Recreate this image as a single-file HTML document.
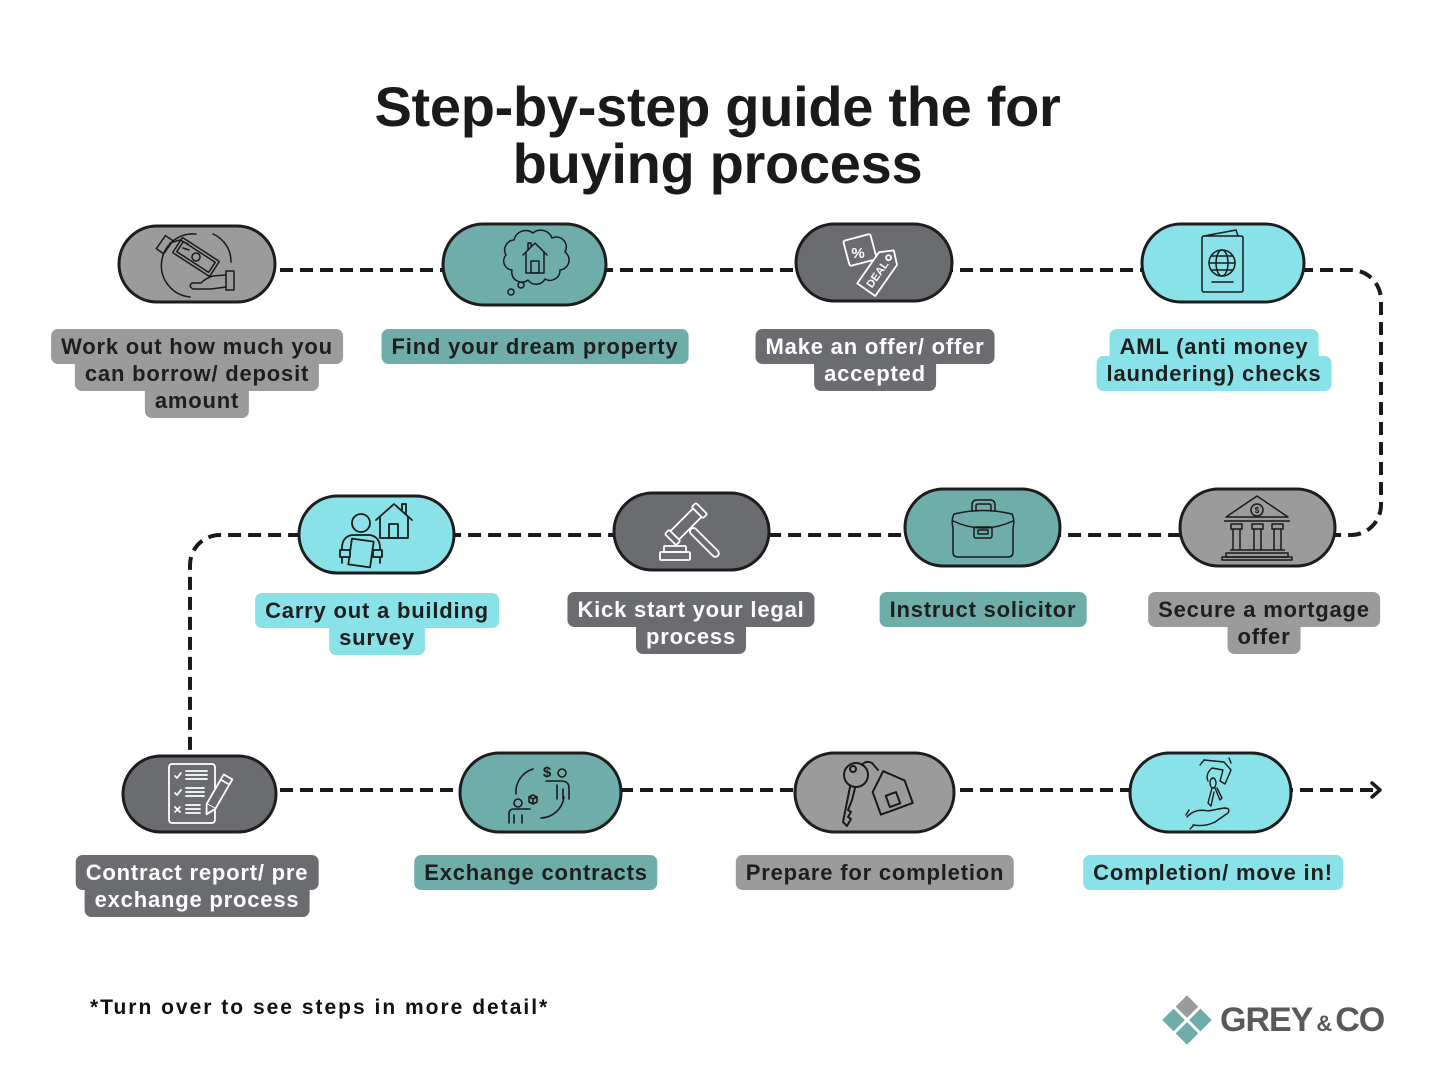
<!DOCTYPE html>
<html>
<head>
<meta charset="utf-8">
<style>
  html,body{margin:0;padding:0;background:#ffffff;}
  body{width:1435px;height:1079px;position:relative;overflow:hidden;font-family:"Liberation Sans",sans-serif;}
  .title{position:absolute;left:0;top:78px;width:1435px;text-align:center;font-weight:bold;font-size:56px;line-height:57px;letter-spacing:-0.3px;color:#1a1a1a;}
  .l{position:absolute;transform:translateX(-50%);white-space:nowrap;height:35px;line-height:35px;padding:0 10px;border-radius:7px;font-weight:bold;font-size:22px;letter-spacing:0.8px;}
  .g{background:#9b9b9b;color:#1e1e1e;}
  .t{background:#6fadaa;color:#1e1e1e;}
  .d{background:#6b6c70;color:#ffffff;}
  .c{background:#89e2e8;color:#1e1e1e;}
  .bg .l{color:transparent;}
  .tx .l{background:transparent;}
  .foot{position:absolute;left:90px;top:997px;font-weight:bold;font-size:21px;line-height:21px;letter-spacing:2px;color:#111;white-space:nowrap;}
  .logo{position:absolute;left:1220px;top:1000px;font-weight:bold;font-size:34px;line-height:40px;letter-spacing:-1px;color:#58595b;white-space:nowrap;}
  .logo .amp{font-size:22px;letter-spacing:0;margin:0 3px 0 4px;}
</style>
</head>
<body>

<svg width="1435" height="1079" style="position:absolute;left:0;top:0" xmlns="http://www.w3.org/2000/svg">
  <!-- connectors -->
  <g fill="none" stroke="#1a1a1a" stroke-width="4" stroke-dasharray="13 7">
    <path d="M200,270 H1351 A30,30 0 0 1 1381,300 V505 A30,30 0 0 1 1351,535 H220 A30,30 0 0 0 190,565 V757"/>
    <path d="M200,790 H1378"/>
  </g>
  <path d="M1372,783 L1380,790 L1372,797" fill="none" stroke="#1a1a1a" stroke-width="3.5" stroke-linecap="round" stroke-linejoin="round"/>

  <!-- pills -->
  <g stroke="#1d1d1d" stroke-width="3">
    <rect x="119" y="226" width="156" height="76" rx="38" fill="#9b9b9b"/>
    <rect x="443" y="224" width="163" height="81" rx="40.5" fill="#6fadaa"/>
    <rect x="796" y="224" width="156" height="77" rx="38.5" fill="#6b6c70"/>
    <rect x="1142" y="224" width="162" height="78" rx="39" fill="#89e2e8"/>

    <rect x="299" y="496" width="155" height="77" rx="38.5" fill="#89e2e8"/>
    <rect x="614" y="493" width="155" height="77" rx="38.5" fill="#6b6c70"/>
    <rect x="905" y="489" width="155" height="77" rx="38.5" fill="#6fadaa"/>
    <rect x="1180" y="489" width="155" height="77" rx="38.5" fill="#9b9b9b"/>

    <rect x="123" y="756" width="153" height="76" rx="38" fill="#6b6c70"/>
    <rect x="460" y="753" width="161" height="79" rx="39.5" fill="#6fadaa"/>
    <rect x="795" y="753" width="159" height="79" rx="39.5" fill="#9b9b9b"/>
    <rect x="1130" y="753" width="161" height="79" rx="39.5" fill="#89e2e8"/>
  </g>

  <!-- Icon 1: money hands -->
  <g fill="none" stroke="#1a1a1a" stroke-width="1.5" stroke-linecap="round" stroke-linejoin="round">
    <path d="M196,234 A31,31 0 0 0 190,297"/>
    <path d="M213,234 A30,30 0 0 1 231,262"/>
    <g transform="rotate(33,196,257)">
      <rect x="174" y="248" width="44" height="18" rx="1"/>
      <rect x="177" y="251" width="38" height="12"/>
      <ellipse cx="196" cy="257" rx="4" ry="4"/>
    </g>
    <g transform="rotate(35,165,245)">
      <rect x="160" y="237" width="9" height="16"/>
    </g>
    <path d="M170,243 L180,240 L188,244 M183,248 L189,250"/>
    <rect x="226" y="271" width="8" height="19"/>
    <path d="M226,275 L213,276 Q206,278 201,283 L192,283 Q188,286 193,289 L211,289 L226,287"/>
  </g>

  <!-- Icon 2: thought cloud with house -->
  <g fill="none" stroke="#1a1a1a" stroke-width="1.5" stroke-linecap="round" stroke-linejoin="round">
    <path d="M512,270 A9,9 0 0 1 506,255 A10,10 0 0 1 514,240 A12,12 0 0 1 533,233 A12,12 0 0 1 552,238 A10,10 0 0 1 565,252 A10,10 0 0 1 560,270 A10,10 0 0 1 545,279 A10,10 0 0 1 528,280 A10,10 0 0 1 512,270 Z"/>
    <path d="M523,255 L535,243 L547,255"/>
    <path d="M526,252 V273 H544 V252"/>
    <rect x="531" y="261" width="8" height="12"/>
    <path d="M528,249 V243 H531 V246"/>
    <circle cx="521" cy="285" r="3"/>
    <circle cx="511" cy="292" r="3"/>
  </g>

  <!-- Icon 3: deal tags (white) -->
  <g fill="none" stroke="#ffffff" stroke-width="1.8" stroke-linejoin="round">
    <g transform="rotate(-15,860,250)">
      <rect x="846" y="237" width="28" height="26" rx="2"/>
    </g>
    <text x="858" y="258" font-family="Liberation Sans, sans-serif" font-size="15" font-weight="bold" fill="#ffffff" stroke="none" text-anchor="middle">%</text>
    <g transform="translate(880,270) rotate(-55)">
      <path d="M-24,-11 H14 L24,0 L14,11 H-24 Z" fill="#6b6c70"/>
      <circle cx="15" cy="0" r="2.5"/>
      <text x="-5" y="4" font-family="Liberation Sans, sans-serif" font-size="11" font-weight="bold" fill="#ffffff" stroke="none" text-anchor="middle">DEAL</text>
    </g>
  </g>

  <!-- Icon 4: passport -->
  <g fill="none" stroke="#1a1a1a" stroke-width="1.5" stroke-linecap="round" stroke-linejoin="round">
    <rect x="1202" y="236" width="41" height="56" rx="2"/>
    <path d="M1204,236 L1236,230 L1238,236"/>
    <circle cx="1222" cy="263" r="13"/>
    <ellipse cx="1222" cy="263" rx="6" ry="13"/>
    <path d="M1209,263 H1235 M1211,256 H1233 M1211,270 H1233"/>
    <path d="M1212,282 H1233"/>
  </g>

  <!-- Icon 5: surveyor + house -->
  <g fill="none" stroke="#1a1a1a" stroke-width="1.8" stroke-linecap="round" stroke-linejoin="round">
    <circle cx="361" cy="523" r="9"/>
    <path d="M342,563 V548 Q342,537 352,535 L370,535 Q380,537 380,548 V563"/>
    <g transform="rotate(8,361,553)">
      <rect x="350" y="540" width="22" height="26" fill="#89e2e8"/>
    </g>
    <rect x="340" y="550" width="10" height="7" fill="#89e2e8"/>
    <rect x="373" y="550" width="9" height="7" fill="#89e2e8"/>
    <path d="M376,520 L394,504 L412,520"/>
    <path d="M380,517 V538 H408 V517"/>
    <rect x="389" y="524" width="9" height="14"/>
    <path d="M402,510 V504 H406 V514"/>
  </g>

  <!-- Icon 6: gavel (white) -->
  <g fill="none" stroke="#ffffff" stroke-width="1.8" stroke-linejoin="round">
    <g transform="translate(686,524) rotate(45)">
      <rect x="7" y="-3.5" width="38" height="7" rx="3.5"/>
    </g>
    <g transform="translate(686,524) rotate(-45)">
      <rect x="-17" y="-6" width="34" height="12" rx="2" fill="#6b6c70"/>
      <rect x="-22" y="-8" width="6" height="16" rx="1.5" fill="#6b6c70"/>
      <rect x="16" y="-8" width="6" height="16" rx="1.5" fill="#6b6c70"/>
    </g>
    <rect x="664" y="546" width="22" height="6" rx="1"/>
    <rect x="660" y="552" width="30" height="8" rx="1"/>
  </g>

  <!-- Icon 7: briefcase -->
  <g fill="none" stroke="#1a1a1a" stroke-width="1.5" stroke-linecap="round" stroke-linejoin="round">
    <path d="M972,511 V505 Q972,500 977,500 H990 Q995,500 995,505 V511"/>
    <path d="M976,511 V506 Q976,504 978,504 H989 Q991,504 991,506 V511"/>
    <path d="M954,514 Q951,520 953,528 V552 Q953,557 958,557 H1008 Q1013,557 1013,552 V528 Q1015,520 1012,514 Q983,507 954,514 Z"/>
    <path d="M953,521 Q983,535 1013,521"/>
    <rect x="974" y="527" width="18" height="11" rx="2"/>
    <rect x="978" y="530" width="10" height="4"/>
  </g>

  <!-- Icon 8: bank -->
  <g fill="none" stroke="#1a1a1a" stroke-width="1.5" stroke-linejoin="round">
    <path d="M1226,517 L1257,496 L1288,517 Z"/>
    <path d="M1224,521 H1290"/>
    <circle cx="1257" cy="510" r="6"/>
    <text x="1257" y="513" font-family="Liberation Sans, sans-serif" font-size="8" font-weight="bold" fill="#1a1a1a" stroke="none" text-anchor="middle">$</text>
    <rect x="1231" y="524" width="11" height="5"/>
    <rect x="1252" y="524" width="11" height="5"/>
    <rect x="1272" y="524" width="11" height="5"/>
    <path d="M1233,529 V550 M1240,529 V550 M1254,529 V550 M1261,529 V550 M1274,529 V550 M1281,529 V550"/>
    <path d="M1230,550 H1285"/>
    <rect x="1226" y="553" width="62" height="4"/>
    <rect x="1222" y="557" width="70" height="3"/>
  </g>

  <!-- Icon 9: checklist (white) -->
  <g fill="none" stroke="#ffffff" stroke-width="1.8" stroke-linecap="round" stroke-linejoin="round">
    <rect x="169" y="764" width="46" height="59" rx="3"/>
    <path d="M175,776 L177,778 L181,773"/>
    <path d="M186,771 H207 M186,775 H207 M186,779 H207"/>
    <path d="M175,793 L177,795 L181,790"/>
    <path d="M186,788 H204 M186,792 H204 M186,796 H204"/>
    <path d="M175,807 L180,812 M180,807 L175,812"/>
    <path d="M186,805 H200 M186,809 H200 M186,813 H200"/>
    <g transform="translate(217,796) rotate(30)">
      <rect x="-5" y="-22" width="10" height="34" fill="#6b6c70"/>
      <path d="M-5,12 L0,21 L5,12" fill="#6b6c70"/>
      <path d="M-5,-16 H5"/>
    </g>
  </g>

  <!-- Icon 10: exchange -->
  <g fill="none" stroke="#1a1a1a" stroke-width="1.6" stroke-linecap="round" stroke-linejoin="round">
    <path d="M533,769 A24,24 0 0 0 516,794"/>
    <path d="M564,797 A24,24 0 0 1 541,818"/>
    <text x="547" y="777" font-family="Liberation Sans, sans-serif" font-size="15" font-weight="bold" fill="#1a1a1a" stroke="none" text-anchor="middle">$</text>
    <circle cx="562" cy="773" r="4"/>
    <path d="M546,781 H561 Q569,781 569,788 V799 M563,789 V799 M557,785 V799"/>
    <circle cx="518" cy="803" r="4"/>
    <path d="M509,823 V814 Q509,809 514,809 H530 M514,815 V823 M522,815 V823"/>
    <path d="M529,797 L533,795 L537,797 V802 L533,804 L529,802 Z M529,797 L533,799 L537,797 M533,799 V804"/>
  </g>

  <!-- Icon 11: keys with house tag -->
  <g fill="none" stroke="#1a1a1a" stroke-width="2" stroke-linecap="round" stroke-linejoin="round">
    <circle cx="856" cy="775" r="12"/>
    <circle cx="853" cy="769" r="3"/>
    <path d="M850,787 L843,822 L847,826 L851,819 L848,817 L851,812 L848,810 L852,800 L855,788"/>
    <path d="M862,765 Q866,760 872,763 L878,770"/>
    <g transform="rotate(-20,890,790)">
      <path d="M873,786 L890,770 L907,786 V810 H873 Z"/>
      <rect x="884" y="794" width="11" height="12"/>
    </g>
  </g>

  <!-- Icon 12: hands with keys -->
  <g fill="none" stroke="#1a1a1a" stroke-width="1.4" stroke-linecap="round" stroke-linejoin="round">
    <path d="M1204,760 L1224,762 L1231,770 L1225,784 L1220,781 L1223,770 L1212,768 Q1205,774 1208,781"/>
    <path d="M1200,765 L1204,760 M1229,758 L1231,763"/>
    <ellipse cx="1213" cy="783" rx="3" ry="5"/>
    <path d="M1212,788 L1208,803 L1211,806 L1214,792 M1215,788 L1220,800 L1222,798 L1217,788"/>
    <path d="M1187,817 Q1195,808 1208,811 L1224,808 Q1231,808 1228,813 L1215,822 Q1205,827 1193,825"/>
    <path d="M1189,810 L1186,815 M1193,826 L1190,829"/>
  </g>

  <!-- Logo diamond -->
  <g transform="translate(1187,1020) rotate(45)">
    <rect x="-17.5" y="-17.5" width="16" height="16" fill="#9b9b9b"/>
    <rect x="1.5" y="-17.5" width="16" height="16" fill="#6fadaa"/>
    <rect x="-17.5" y="1.5" width="16" height="16" fill="#6fadaa"/>
    <rect x="1.5" y="1.5" width="16" height="16" fill="#6fadaa"/>
  </g>
</svg>

<div class="title">Step-by-step guide the for<br>buying process</div>

<!-- label backgrounds -->
<div class="bg">
<div class="l g" style="left:197px;top:329px;">Work out how much you</div>
<div class="l g" style="left:197px;top:356px;">can borrow/ deposit</div>
<div class="l g" style="left:197px;top:383px;">amount</div>
<div class="l t" style="left:535px;top:329px;">Find your dream property</div>
<div class="l d" style="left:875px;top:329px;">Make an offer/ offer</div>
<div class="l d" style="left:875px;top:356px;">accepted</div>
<div class="l c" style="left:1214px;top:329px;">AML (anti money</div>
<div class="l c" style="left:1214px;top:356px;">laundering) checks</div>
<div class="l c" style="left:377px;top:593px;">Carry out a building</div>
<div class="l c" style="left:377px;top:620px;">survey</div>
<div class="l d" style="left:691px;top:592px;">Kick start your legal</div>
<div class="l d" style="left:691px;top:619px;">process</div>
<div class="l t" style="left:983px;top:592px;">Instruct solicitor</div>
<div class="l g" style="left:1264px;top:592px;">Secure a mortgage</div>
<div class="l g" style="left:1264px;top:619px;">offer</div>
<div class="l d" style="left:197px;top:855px;">Contract report/ pre</div>
<div class="l d" style="left:197px;top:882px;">exchange process</div>
<div class="l t" style="left:536px;top:855px;">Exchange contracts</div>
<div class="l g" style="left:875px;top:855px;">Prepare for completion</div>
<div class="l c" style="left:1213px;top:855px;">Completion/ move in!</div>
</div>

<!-- label text -->
<div class="tx">
<div class="l g" style="left:197px;top:329px;">Work out how much you</div>
<div class="l g" style="left:197px;top:356px;">can borrow/ deposit</div>
<div class="l g" style="left:197px;top:383px;">amount</div>
<div class="l t" style="left:535px;top:329px;">Find your dream property</div>
<div class="l d" style="left:875px;top:329px;">Make an offer/ offer</div>
<div class="l d" style="left:875px;top:356px;">accepted</div>
<div class="l c" style="left:1214px;top:329px;">AML (anti money</div>
<div class="l c" style="left:1214px;top:356px;">laundering) checks</div>
<div class="l c" style="left:377px;top:593px;">Carry out a building</div>
<div class="l c" style="left:377px;top:620px;">survey</div>
<div class="l d" style="left:691px;top:592px;">Kick start your legal</div>
<div class="l d" style="left:691px;top:619px;">process</div>
<div class="l t" style="left:983px;top:592px;">Instruct solicitor</div>
<div class="l g" style="left:1264px;top:592px;">Secure a mortgage</div>
<div class="l g" style="left:1264px;top:619px;">offer</div>
<div class="l d" style="left:197px;top:855px;">Contract report/ pre</div>
<div class="l d" style="left:197px;top:882px;">exchange process</div>
<div class="l t" style="left:536px;top:855px;">Exchange contracts</div>
<div class="l g" style="left:875px;top:855px;">Prepare for completion</div>
<div class="l c" style="left:1213px;top:855px;">Completion/ move in!</div>
</div>

<div class="foot">*Turn over to see steps in more detail*</div>

<div class="logo">GREY<span class="amp">&amp;</span>CO</div>

</body>
</html>
